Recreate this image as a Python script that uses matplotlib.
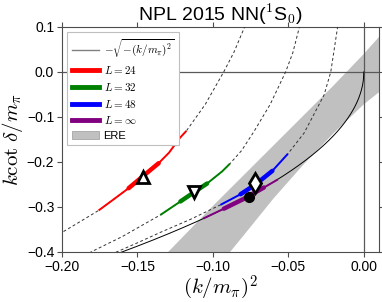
import numpy as np
import matplotlib
matplotlib.use("Agg")
import matplotlib.pyplot as plt
from matplotlib.patches import Patch
from matplotlib.lines import Line2D

plt.rcParams['font.family'] = ['Liberation Sans', 'DejaVu Sans']
plt.rcParams['mathtext.fontset'] = 'cm'

# dashed finite-volume curves
dash24_x = [-0.205, -0.200, -0.190, -0.1757, -0.166, -0.1558, -0.146, -0.1359, -0.129, -0.122,
            -0.1175, -0.105, -0.0928, -0.086, -0.0795, -0.078]
dash24_y = [-0.367, -0.357, -0.337, -0.308, -0.284, -0.2585, -0.231, -0.2029, -0.1794, -0.1473,
            -0.131, -0.072, 0.000, 0.044, 0.0956, 0.108]
dash32_x = [-0.185, -0.180, -0.160, -0.1348, -0.1215, -0.1127, -0.1038, -0.0938, -0.0887,
            -0.081, -0.0728, -0.062, -0.0518, -0.047, -0.043, -0.042]
dash32_y = [-0.408, -0.399, -0.366, -0.318, -0.288, -0.268, -0.248, -0.221, -0.204,
            -0.175, -0.1327, -0.072, 0.000, 0.043, 0.0956, 0.110]
dash48_x = [-0.170, -0.165, -0.150, -0.135, -0.115, -0.095, -0.0817, -0.0717, -0.0606, -0.0503,
            -0.0396, -0.0263, -0.0219, -0.0175, -0.017]
dash48_y = [-0.415, -0.402, -0.380, -0.357, -0.328, -0.2956, -0.272, -0.250, -0.220, -0.182,
            -0.136, -0.051, 0.000, 0.097, 0.106]

# lattice bands (full range and central range)
red_x = [-0.1757, -0.166, -0.1558, -0.146, -0.1359, -0.129, -0.122, -0.1175]
red_y = [-0.308, -0.284, -0.2585, -0.231, -0.2029, -0.1794, -0.1473, -0.131]
red_core = (2, 5)
green_x = [-0.1348, -0.1215, -0.1127, -0.1038, -0.0938, -0.0887]
green_y = [-0.318, -0.288, -0.268, -0.248, -0.221, -0.204]
green_core = (1, 4)
blue_x = [-0.095, -0.0817, -0.0717, -0.0606, -0.0503]
blue_y = [-0.2956, -0.272, -0.250, -0.220, -0.182]
blue_core = (1, 4)
purple_x = [-0.1064, -0.0927, -0.0800, -0.0662, -0.0569]
purple_y = [-0.326, -0.304, -0.283, -0.257, -0.239]
purple_core = (1, 4)

# markers
pt24 = (-0.1463, -0.2326)
pt32 = (-0.1127, -0.266)
pt48 = (-0.0724, -0.2474)
ptinf = (-0.0761, -0.277)

# effective range expansion band
ere_x = [-0.14, -0.12, -0.10, -0.08, -0.06, -0.04, -0.02, 0.0, 0.012]
ere_hi = [-0.436, -0.367, -0.298, -0.231, -0.164, -0.097, -0.030, 0.040, 0.085]
ere_lo = [-0.620, -0.532, -0.447, -0.365, -0.282, -0.206, -0.136, -0.072, -0.040]

fig = plt.figure(figsize=(3.82, 3.02), dpi=100)
ax = fig.add_axes([0.162, 0.166, 0.83, 0.745])

ax.fill_between(ere_x, ere_lo, ere_hi, color='#c0c0c0', lw=0, zorder=1)
ax.axhline(0, color='0.35', lw=0.9, zorder=2)
ax.axvline(0, color='0.35', lw=0.9, zorder=2)

k2 = np.linspace(-0.2, 0, 600)
ax.plot(k2, -np.sqrt(-k2), color='k', lw=0.7, zorder=3)
for dx, dy in [(dash24_x, dash24_y), (dash32_x, dash32_y), (dash48_x, dash48_y)]:
    ax.plot(dx, dy, color='0.2', lw=0.7, ls=(0, (3, 2.5)), zorder=3)

for bx, by, core, c in [(red_x, red_y, red_core, 'red'), (green_x, green_y, green_core, 'green'),
                        (blue_x, blue_y, blue_core, 'blue'), (purple_x, purple_y, purple_core, 'purple')]:
    ax.plot(bx, by, color=c, lw=1.4, solid_capstyle='butt', zorder=4)
    ax.plot(bx[core[0]:core[1]], by[core[0]:core[1]], color=c, lw=3.2,
            solid_capstyle='round', zorder=4)

ax.plot(*pt24, marker='^', ms=8, mfc='white', mec='k', mew=2, zorder=5)
ax.plot(*pt32, marker='v', ms=8, mfc='white', mec='k', mew=2, zorder=5)
ax.plot(*pt48, marker='d', ms=10, mfc='white', mec='k', mew=2, zorder=5)
ax.plot(*ptinf, marker='o', ms=7, mfc='k', mec='k', zorder=5)

ax.set_xlim(-0.2, 0.01)
ax.set_ylim(-0.4, 0.1)
ax.set_xticks([-0.2, -0.15, -0.1, -0.05, 0.0])
ax.set_xticklabels(['\u22120.20', '\u22120.15', '\u22120.10', '\u22120.05', '0.00'])
ax.set_yticks([-0.4, -0.3, -0.2, -0.1, 0.0, 0.1])
ax.set_yticklabels(['\u22120.4', '\u22120.3', '\u22120.2', '\u22120.1', '0.0', '0.1'])
ax.tick_params(labelsize=10, direction='out', length=3.5, width=0.8, color='0.3',
               top=True, right=True, pad=2)
for s in ax.spines.values():
    s.set_color('0.3')
    s.set_linewidth(0.8)

ax.set_xlabel(r'$(k/m_\pi)^2$', fontsize=15, labelpad=0)
ax.set_ylabel(r'$k\cot\,\delta/m_\pi$', fontsize=15, labelpad=1)
ax.set_title(r'NPL 2015 NN($^1$S$_0$)', fontsize=14, pad=4)

handles = [Line2D([], [], color='0.5', lw=1.0),
           Line2D([], [], color='red', lw=3.5),
           Line2D([], [], color='green', lw=3.5),
           Line2D([], [], color='blue', lw=3.5),
           Line2D([], [], color='purple', lw=3.5),
           Patch(facecolor='#c0c0c0', edgecolor='0.6', lw=0.5)]
labels = [r'$-\sqrt{-(k/m_\pi)^2}$', r'$L=24$', r'$L=32$', r'$L=48$', r'$L=\infty$', 'ERE']
leg = ax.legend(handles, labels, loc='upper left', fontsize=8, labelspacing=0.42,
                handlelength=2.4, handletextpad=0.45, borderpad=0.4,
                bbox_to_anchor=(0.0, 1.0), fancybox=False, framealpha=1, edgecolor='0.75')
leg.get_frame().set_linewidth(0.8)

fig.savefig('out.png', dpi=100)
